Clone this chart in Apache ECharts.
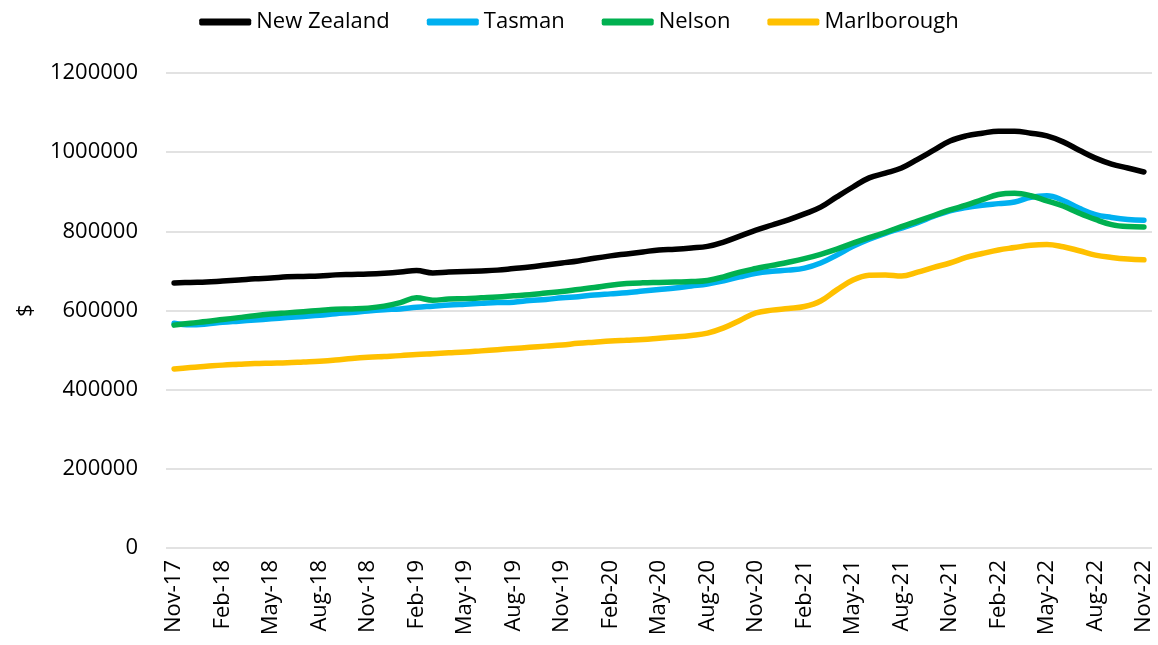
<!DOCTYPE html>
<html>
<head>
<meta charset="utf-8">
<script src="https://cdn.jsdelivr.net/npm/echarts@6/dist/echarts.min.js"></script>
<style>
html,body{margin:0;padding:0;background:#fff;}
#chart{width:1158px;height:645px;}
</style>
</head>
<body>
<div id="chart"></div>
<script>
var months = ['Nov-17','Dec-17','Jan-18','Feb-18','Mar-18','Apr-18','May-18','Jun-18','Jul-18','Aug-18','Sep-18','Oct-18',
  'Nov-18','Dec-18','Jan-19','Feb-19','Mar-19','Apr-19','May-19','Jun-19','Jul-19','Aug-19','Sep-19','Oct-19',
  'Nov-19','Dec-19','Jan-20','Feb-20','Mar-20','Apr-20','May-20','Jun-20','Jul-20','Aug-20','Sep-20','Oct-20',
  'Nov-20','Dec-20','Jan-21','Feb-21','Mar-21','Apr-21','May-21','Jun-21','Jul-21','Aug-21','Sep-21','Oct-21',
  'Nov-21','Dec-21','Jan-22','Feb-22','Mar-22','Apr-22','May-22','Jun-22','Jul-22','Aug-22','Sep-22','Oct-22','Nov-22'];

var newZealand = [669500,671000,672000,674500,677000,680000,682000,685000,686000,687000,690000,691000,
  692000,694000,697000,701000,695000,697000,698500,700000,702000,706000,710000,715000,
  720000,725000,732000,738000,743000,748000,753000,755000,758000,762000,773000,788000,
  803000,816000,829000,844000,861000,887000,912000,935000,947000,960000,982000,1005000,
  1028000,1041000,1048000,1053000,1053000,1048000,1041000,1026000,1005000,985000,970000,960000,950000];

var tasman = [568000,564000,566000,570000,573000,576000,579000,582000,585000,588000,592000,595000,
  599000,602000,604000,608000,611000,614000,616000,618000,620000,621000,625000,628000,
  632000,635000,639000,642000,645000,649000,653000,657000,662000,667000,675000,685000,
  694000,699000,702000,707000,720000,740000,762000,780000,795000,808000,822000,838000,
  852000,860000,866000,870000,874000,886000,890000,878000,858000,842000,835000,830000,828000];

var nelson = [563000,568000,572000,577000,582000,587000,591000,594000,597000,600000,603000,604000,
  606000,611000,620000,632000,626000,629000,630000,632000,634000,637000,640000,644000,
  648000,653000,658000,664000,668000,670000,671000,672000,673000,676000,685000,697000,
  706000,714000,722000,731000,742000,755000,770000,784000,797000,812000,826000,840000,
  854000,866000,880000,893000,896000,890000,877000,864000,846000,830000,817000,812000,811000];

var marlborough = [452000,456000,459000,462000,464000,466000,467000,468000,470000,472000,475000,479000,
  482000,484000,486000,489000,491000,493000,495000,498000,501000,504000,507000,510000,
  513000,517000,520000,523000,525000,527000,530000,533000,537000,543000,556000,575000,
  594000,601000,605000,610000,624000,652000,677000,689000,690000,687000,697000,709000,
  720000,734000,744000,753000,759000,765000,767000,761000,751000,740000,734000,730000,728000];

var seriesNames = ['New Zealand','Tasman','Nelson','Marlborough'];
var seriesColors = ['#000000','#00b0f0','#00b050','#ffc000'];
var seriesData = [newZealand, tasman, nelson, marlborough];

var font = '"Open Sans", "Noto Sans", sans-serif';
var chart = echarts.init(document.getElementById('chart'), null, {renderer:'canvas'});
chart.setOption({
  animation:false,
  backgroundColor:'#ffffff',
  textStyle:{fontFamily:font},
  legend:{
    top:6,
    left:'center',
    itemWidth:52,
    itemHeight:7,
    itemGap:37,
    icon:'roundRect',
    textStyle:{fontSize:22,color:'#000',fontFamily:font},
    data:seriesNames
  },
  grid:{left:166,right:6,top:73,bottom:97,containLabel:false},
  xAxis:{
    type:'category',
    data:months,
    boundaryGap:true,
    axisLine:{show:false},
    axisTick:{show:false},
    axisLabel:{interval:2,rotate:90,margin:12,fontSize:22,color:'#000',fontFamily:font}
  },
  yAxis:{
    type:'value',
    min:0,max:1200000,interval:200000,
    name:'$',
    nameLocation:'middle',
    nameRotate:90,
    nameGap:129,
    nameTextStyle:{fontSize:22,color:'#000',fontFamily:font},
    axisLine:{show:false},
    axisTick:{show:false},
    axisLabel:{margin:28,fontSize:22,color:'#000',fontFamily:font,formatter:function(v){return String(v);}},
    splitLine:{lineStyle:{color:'#d9d9d9',width:1.5}}
  },
  series:seriesNames.map(function(n,i){
    return {
      name:n,type:'line',data:seriesData[i],
      smooth:0.4,symbol:'none',
      itemStyle:{color:seriesColors[i]},
      lineStyle:{color:seriesColors[i],width:5.5,cap:'round',join:'round'}
    };
  })
});
</script>
</body>
</html>
